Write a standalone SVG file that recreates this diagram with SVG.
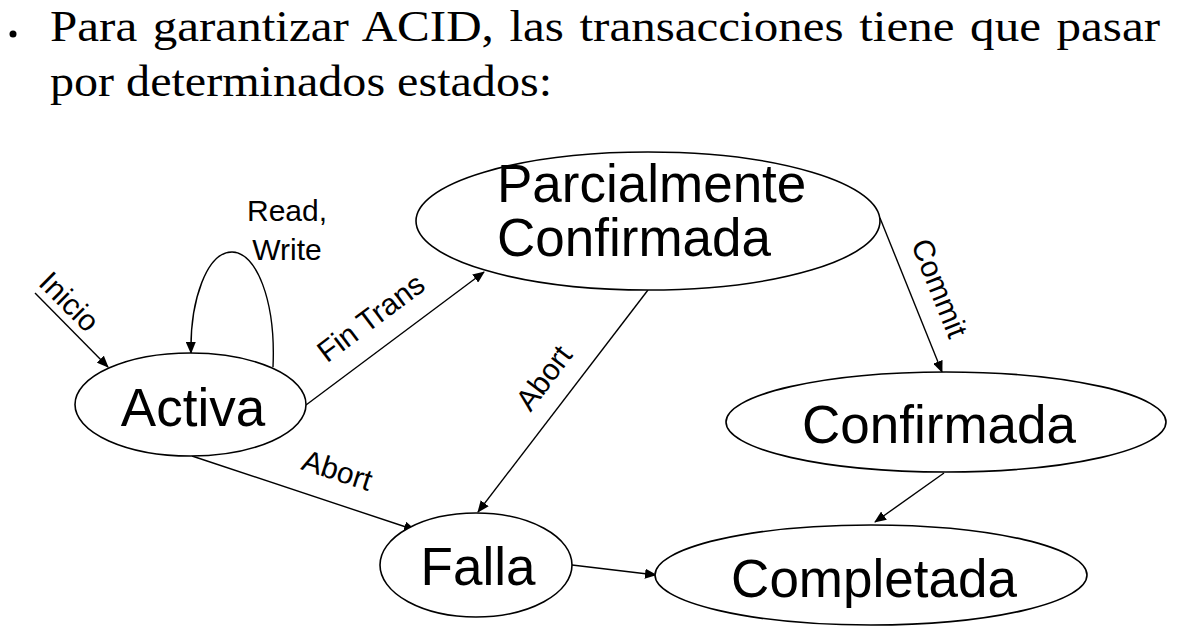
<svg xmlns="http://www.w3.org/2000/svg" width="1188" height="626" viewBox="0 0 1188 626">
<style>
.node ellipse{fill:#fff;stroke:#000;stroke-width:1.6}
.node text{font-family:"Liberation Sans",Arial,sans-serif;font-size:53px;fill:#000}
.edge{fill:none;stroke:#000;stroke-width:1.4}
.lbl{font-family:"Liberation Sans",Arial,sans-serif;font-size:30px;fill:#000;text-anchor:middle}
.title{font-family:"Liberation Serif","Times New Roman",serif;font-size:45px;fill:#000}
</style>
<defs>
<marker id="arr" markerWidth="12" markerHeight="10" refX="11" refY="5" orient="auto" markerUnits="userSpaceOnUse">
<path d="M0,0 L12,5 L0,10 Z" fill="#000"/>
</marker>
</defs>
<rect width="1188" height="626" fill="#fff"/>
<g id="title">
<circle cx="13" cy="34" r="3.5" fill="#000"/>
<text class="title" x="50" y="40.5" word-spacing="3" textLength="1110" lengthAdjust="spacingAndGlyphs">Para garantizar ACID, las transacciones tiene que pasar</text>
<text class="title" x="50" y="96" textLength="502" lengthAdjust="spacingAndGlyphs">por determinados estados:</text>
</g>
<g id="connectors">
<line class="edge" x1="35" y1="293" x2="108" y2="367" marker-end="url(#arr)"/>
<path class="edge" d="M273,367 C276,300 256,252 232,252 C207,252 190,300 191,353" marker-end="url(#arr)"/>
<line class="edge" x1="306" y1="405" x2="484" y2="272" marker-end="url(#arr)"/>
<line class="edge" x1="648" y1="290" x2="478" y2="512" marker-end="url(#arr)"/>
<line class="edge" x1="880" y1="218" x2="942" y2="372" marker-end="url(#arr)"/>
<line class="edge" x1="192" y1="456" x2="415" y2="530" marker-end="url(#arr)"/>
<line class="edge" x1="572" y1="565" x2="656" y2="575" marker-end="url(#arr)"/>
<line class="edge" x1="944" y1="473" x2="875" y2="522" marker-end="url(#arr)"/>
<text class="lbl" transform="translate(62,309) rotate(45)">Inicio</text>
<text class="lbl" x="287" y="221">Read,</text>
<text class="lbl" x="287" y="260">Write</text>
<text class="lbl" transform="translate(377,326) rotate(-37)">Fin Trans</text>
<text class="lbl" transform="translate(552,384) rotate(-53)">Abort</text>
<text class="lbl" transform="translate(930,292) rotate(68)">Commit</text>
<text class="lbl" transform="translate(334,480) rotate(18)">Abort</text>
</g>
<g id="activa" class="node">
<ellipse cx="190.5" cy="404.5" rx="115.5" ry="51.5"/>
<text x="193" y="426" text-anchor="middle">Activa</text>
</g>
<g id="parcialmente" class="node">
<ellipse cx="648" cy="221" rx="232" ry="69"/>
<text x="497" y="202">Parcialmente</text>
<text x="497" y="256">Confirmada</text>
</g>
<g id="confirmada" class="node">
<ellipse cx="946" cy="422" rx="220" ry="50"/>
<text x="939" y="443" text-anchor="middle">Confirmada</text>
</g>
<g id="falla" class="node">
<ellipse cx="476" cy="565" rx="96" ry="52"/>
<text x="478" y="585" text-anchor="middle">Falla</text>
</g>
<g id="completada" class="node">
<ellipse cx="871" cy="575" rx="216" ry="50"/>
<text x="874" y="597" text-anchor="middle">Completada</text>
</g>
</svg>
